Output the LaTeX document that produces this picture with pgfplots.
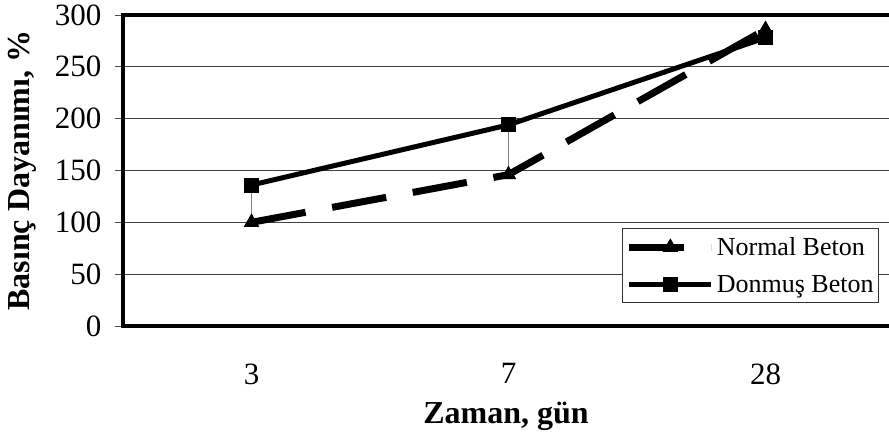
\documentclass[border=0pt]{standalone}
\usepackage{pgfplots}
\pgfplotsset{compat=1.18}
\usepackage{fontspec}
\setmainfont{Liberation Serif}
\begin{document}
\begin{tikzpicture}
\begin{axis}[
  scale only axis, width=766bp, height=311bp,
  xmin=-0.5, xmax=2.4805, ymin=0, ymax=300,
  axis x line*=box, axis y line*=left,
  axis line style={line width=4.5bp, -, line cap=rect},
  x axis line style={-}, y axis line style={-},
  ytick={0,50,...,300},
  ymajorgrids, grid style={line width=1bp, black!75},
  tick align=outside,
  major tick length=8bp,
  xtick pos=bottom, ytick pos=left,
  xtick={0,1,2}, xticklabels={3,7,28},
  xtick style={draw=none},
  ytick style={line width=1bp, black!70},
  extra x ticks={-0.5,0.5,1.5},
  extra x tick labels={},
  extra x tick style={tick style={draw=black!70, line width=1bp}, major tick length=8bp},
  /pgf/number format/assume math mode=true,
  ticklabel style={font=\fontsize{31bp}{36bp}\selectfont},
  xticklabel style={yshift=-26bp},
  yticklabel style={xshift=-10bp},
  every axis x label/.style={at={(axis description cs:0.5,-0.29)}, anchor=center,
    font=\bfseries\fontsize{32bp}{38bp}\selectfont},
  every axis y label/.style={at={(axis description cs:-0.1319,0.5)}, rotate=90, anchor=center,
    font=\bfseries\fontsize{32bp}{38bp}\selectfont},
  xlabel={Zaman, gün},
  ylabel={Basınç Dayanımı, \%},
  legend style={at={(0.987,0.315)}, anchor=north east, draw=black!80, line width=1bp,
    font=\fontsize{26bp}{31bp}\selectfont, cells={anchor=west, inner xsep=2bp}, row sep=14bp,
    inner xsep=3bp, inner ysep=7bp},
  legend image code/.code={\draw[mark repeat=2,mark phase=2,#1] plot coordinates {(0bp,0bp) (41bp,0bp) (82bp,0bp)};},
]
\addplot[gray, line width=1bp, forget plot] coordinates {(0,100) (0,136)};
\addplot[gray, line width=1bp, forget plot] coordinates {(1,146) (1,194)};
\addplot[black, line width=7bp, dash pattern=on 55bp off 27bp, mark=triangle*, mark size=8bp,
  mark options={solid, line width=1bp}] coordinates {(0,100) (1,146) (2,286)};
\addlegendentry{Normal Beton}
\addplot[black, line width=5bp, mark=square*, mark size=7bp,
  mark options={solid, line width=1bp}] coordinates {(0,136) (1,194) (2,278)};
\addlegendentry{Donmuş Beton}
\end{axis}
\pgfresetboundingbox
\path[use as bounding box] (-123bp,-115bp) rectangle (766bp,326bp);
\end{tikzpicture}
\end{document}
